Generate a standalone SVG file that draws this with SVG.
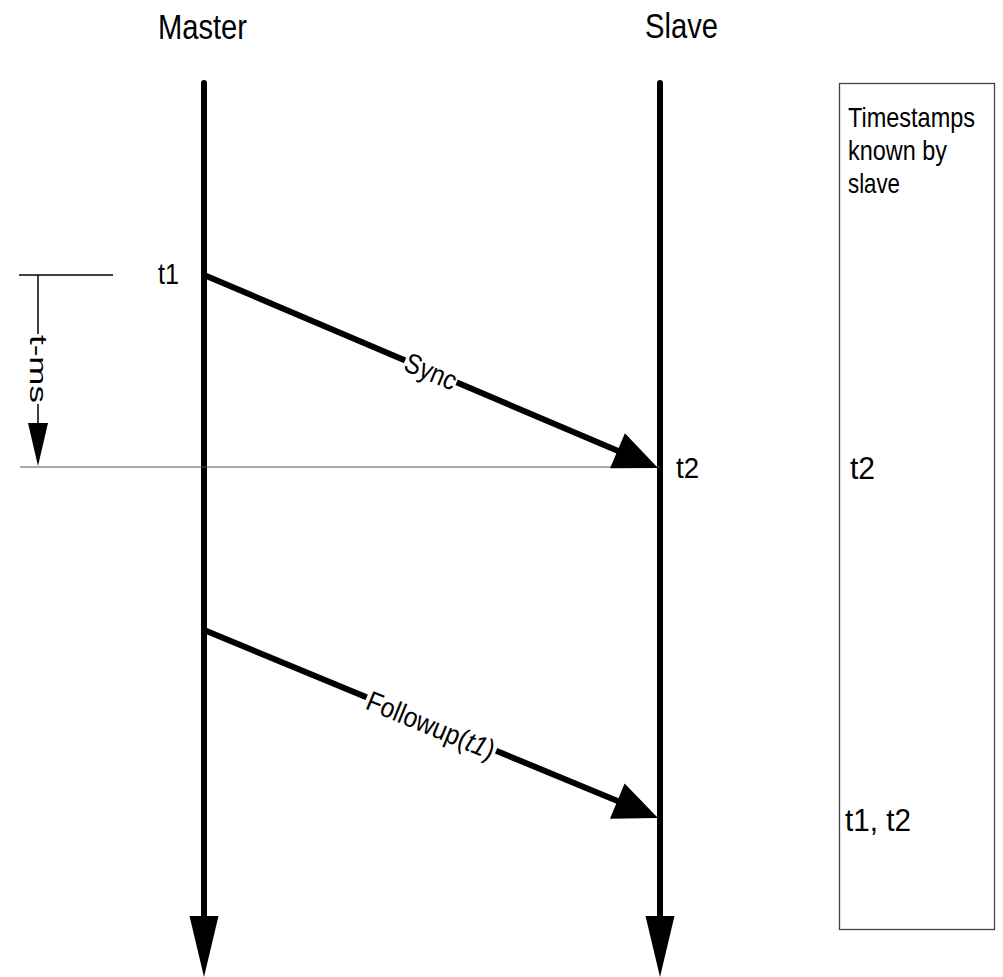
<svg xmlns="http://www.w3.org/2000/svg" width="1003" height="977" viewBox="0 0 1003 977">
<style>
text{font-family:"Liberation Sans",Arial,sans-serif;fill:#000}
.big{font-size:35px}
.mid{font-size:30px}
.lbl{font-size:28px}
.thick{stroke:#000;stroke-width:6;fill:none}
.thin{stroke:#000;stroke-width:1.5;fill:none}
.head{fill:#000;stroke:none}
</style>
<rect width="1003" height="977" fill="#fff"/>
<g id="master">
<text class="big" x="158" y="39" textLength="89" lengthAdjust="spacingAndGlyphs">Master</text>
<line class="thick" x1="204" y1="83" x2="204" y2="918" stroke-linecap="round"/>
<polygon class="head" points="189.5,916 218.5,916 204,977"/>
<text class="mid" x="158" y="284" textLength="21" lengthAdjust="spacingAndGlyphs">t1</text>
</g>
<g id="slave">
<text class="big" x="645" y="38" textLength="73" lengthAdjust="spacingAndGlyphs">Slave</text>
<line class="thick" x1="660" y1="83" x2="660" y2="918" stroke-linecap="round"/>
<polygon class="head" points="645.5,916 674.5,916 660,977"/>
<text class="mid" x="676" y="478" textLength="23" lengthAdjust="spacingAndGlyphs">t2</text>
</g>
<g id="timestamps">
<rect x="839.5" y="83.5" width="155" height="846" fill="none" stroke="#444" stroke-width="1.3"/>
<text class="lbl" x="848" y="127" textLength="127" lengthAdjust="spacingAndGlyphs">Timestamps</text>
<text class="lbl" x="848" y="160" textLength="99" lengthAdjust="spacingAndGlyphs">known by</text>
<text class="lbl" x="848" y="193" textLength="52" lengthAdjust="spacingAndGlyphs">slave</text>
<text class="mid" x="850" y="479" style="font-size:31px" textLength="25" lengthAdjust="spacingAndGlyphs">t2</text>
<text class="mid" x="845" y="831" style="font-size:31px" textLength="66" lengthAdjust="spacingAndGlyphs">t1, t2</text>
</g>
<g id="tms">
<line class="thin" x1="19" y1="275" x2="113" y2="275"/>
<line class="thin" x1="38" y1="275" x2="38" y2="425"/>
<polygon class="head" points="28,423 48,423 38,466"/>
<rect x="27" y="334" width="22" height="70" fill="#fff"/>
<text transform="translate(29.5,335) rotate(90)" style="font-size:23px" x="0" y="0" textLength="68" lengthAdjust="spacingAndGlyphs">t-ms</text>
</g>
<g id="connectors">
<line x1="20" y1="467" x2="660" y2="467" stroke="#555" stroke-width="1.2"/>
<line class="thick" x1="204" y1="275" x2="620" y2="451.8"/>
<polygon class="head" points="610.1,468.3 658,468 624.9,433.3"/>
<g transform="translate(431,371) rotate(23)">
<rect x="-28" y="-13" width="56" height="26" fill="#fff"/>
<text class="lbl" x="-27" y="10" textLength="54" lengthAdjust="spacingAndGlyphs">Sync</text>
</g>
<line class="thick" x1="204" y1="630" x2="620" y2="802"/>
<polygon class="head" points="610,818.8 658,818 624.6,783.6"/>
<g transform="translate(431,725) rotate(22.4)">
<rect x="-70" y="-13" width="140" height="28" fill="#fff"/>
<text class="lbl" x="-68" y="10" textLength="136" lengthAdjust="spacingAndGlyphs">Followup(<tspan font-style="italic">t1</tspan>)</text>
</g>
</g>
</svg>
